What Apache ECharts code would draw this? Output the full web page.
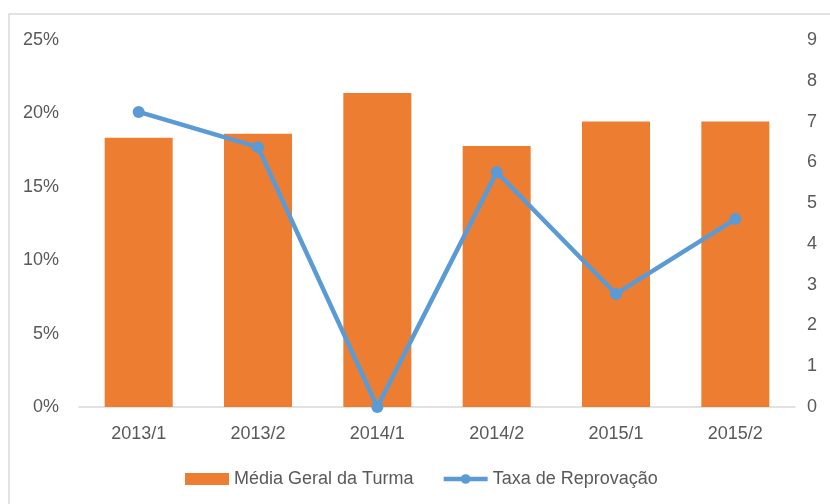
<!DOCTYPE html>
<html>
<head>
<meta charset="utf-8">
<script src="https://cdn.jsdelivr.net/npm/echarts@6/dist/echarts.min.js"></script>
<style>
    html, body { margin: 0; padding: 0; background: #fff; }
    #chartDiv { width: 830px; height: 504px; }
</style>
</head>
<body>
<div id="chartDiv"></div>
<script>
    var semestres = ['2013/1', '2013/2', '2014/1', '2014/2', '2015/1', '2015/2'];
    // media geral (eixo da direita, 0-9)
    var mediaGeral = [6.6, 6.7, 7.7, 6.4, 7.0, 7.0];
    // taxa de reprovacao em % (eixo da esquerda)
    var taxaReprovacao = [20.1, 17.7, 0, 16.0, 7.7, 12.8];

    var fonte = 'Liberation Sans, Arial, sans-serif';
    var corTexto = '#595959';

    var chart = echarts.init(document.getElementById('chartDiv'));
    chart.setOption({
        animation: false,
        textStyle: { fontFamily: fonte },
        graphic: [{
            type: 'rect',
            shape: { x: 9, y: 14, width: 900, height: 600 },
            style: { fill: 'none', stroke: '#d9d9d9', lineWidth: 1.5 },
            silent: true
        }],
        grid: {
            left: 79, right: 35, top: 40, bottom: 97,
            containLabel: false,
            outerBoundsMode: 'none'
        },
        legend: {
            left: 180,
            top: 465,
            itemGap: 28,
            itemWidth: 44,
            itemHeight: 12,
            textStyle: { color: corTexto, fontSize: 18, fontFamily: fonte },
            data: [
                { name: 'Média Geral da Turma', icon: 'rect', itemStyle: { color: '#ED7D31' } },
                { name: 'Taxa de Reprovação', lineStyle: { width: 4.5 } }
            ]
        },
        xAxis: {
            type: 'category',
            data: semestres,
            axisLine: { lineStyle: { color: '#d9d9d9', width: 1.5 } },
            axisTick: { show: false },
            axisLabel: { color: corTexto, fontSize: 18, margin: 18 }
        },
        yAxis: [{
            type: 'value',
            min: 0, max: 25, interval: 5,
            axisLine: { show: false },
            axisTick: { show: false },
            splitLine: { show: false },
            axisLabel: { color: corTexto, fontSize: 18, margin: 20, formatter: '{value}%' }
        }, {
            type: 'value',
            min: 0, max: 9, interval: 1,
            axisLine: { show: false },
            axisTick: { show: false },
            splitLine: { show: false },
            axisLabel: { color: corTexto, fontSize: 18, margin: 12 }
        }],
        series: [{
            name: 'Média Geral da Turma',
            type: 'bar',
            yAxisIndex: 1,
            barWidth: 68,
            itemStyle: { color: '#ED7D31' },
            data: mediaGeral
        }, {
            name: 'Taxa de Reprovação',
            type: 'line',
            yAxisIndex: 0,
            symbol: 'circle',
            symbolSize: 12,
            lineStyle: { color: '#5B9BD5', width: 4.5 },
            itemStyle: { color: '#5B9BD5' },
            data: taxaReprovacao
        }]
    });
</script>
</body>
</html>
